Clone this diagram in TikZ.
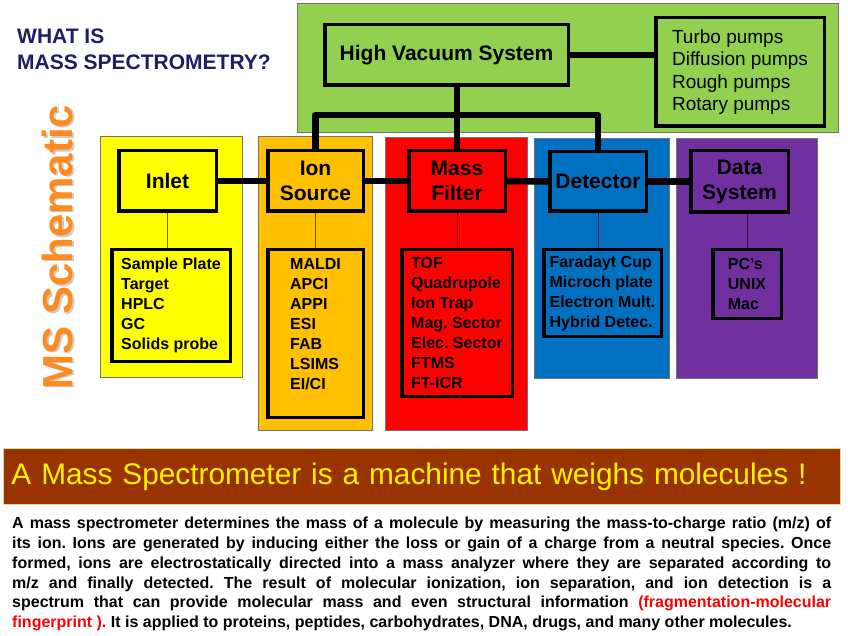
\documentclass[tikz,border=0pt]{standalone}
\usepackage{fontspec}
\setmainfont{Liberation Sans}
\usetikzlibrary{positioning, calc}
\hyphenpenalty=10000
\exhyphenpenalty=10000
\frenchspacing
\definecolor{cvac}{HTML}{92D050}
\definecolor{cinlet}{HTML}{FFFF00}
\definecolor{cion}{HTML}{FFC000}
\definecolor{cmass}{HTML}{FF0000}
\definecolor{cdet}{HTML}{0070C0}
\definecolor{cdata}{HTML}{7030A0}
\definecolor{cbanner}{HTML}{993300}
\definecolor{cedge}{HTML}{C4E59A}
\definecolor{cnavy}{HTML}{1E1E66}
\definecolor{corange}{HTML}{FF8A1E}
\tikzset{
  panel/.style={draw=black!55, line width=0.8pt, fill=#1},
  part/.style={draw=black, line width=3.5pt, fill=#1, align=center, inner sep=0pt, font=\bfseries\fontsize{21}{25}\selectfont},
  items/.style={draw=black, line width=3.5pt, fill=#1, align=left, inner sep=0pt, font=\bfseries\fontsize{16}{20}\selectfont},
  link/.style={draw=black, line width=6.5pt, line join=round},
  stem/.style={draw=black, draw opacity=0.6, line width=1pt},
  title/.style={font=\bfseries\fontsize{21}{26}\selectfont, text=cnavy, align=left, inner sep=0pt},
  sidetitle/.style={font=\bfseries\fontsize{42}{48}\selectfont, rotate=90, inner sep=0pt},
  banner/.style={draw=cedge, line width=1pt, fill=cbanner, text=yellow, align=left, font=\fontsize{29.8}{36}\selectfont},
  para/.style={font=\bfseries\fontsize{16}{19.8}\selectfont, align=justify, inner sep=0pt},
}

\begin{document}
\begin{tikzpicture}[x=1pt, y=-1pt]
  \useasboundingbox (0,0) rectangle (848,636);
  \node[title, anchor=north west] (whatis) at (17,29) {WHAT IS\\MASS SPECTROMETRY?};
  \node[sidetitle, text=black!20] (msshadow) at (59,248.5) {MS Schematic};
  \node[sidetitle, text=corange] (mstitle) at (57.5,247) {MS Schematic};
  % coloured backgrounds
  \draw[panel=cvac] (297,3) rectangle (838,132);
  \draw[panel=cinlet] (100,136) rectangle (242,377);
  \draw[panel=cion] (258,136) rectangle (372,430);
  \draw[panel=cmass] (385,137) rectangle (527,430);
  \draw[panel=cdet] (534,138) rectangle (669,378);
  \draw[panel=cdata] (676,138) rectangle (817,378);
  % vacuum system
  \node[part=cvac, minimum width=243.5, minimum height=60.5] (hvs) at (446.5,55) {High Vacuum System};
  \node[part=cvac, font=\fontsize{19}{22.5}\selectfont, align=left, minimum width=168.5, minimum height=108.5] (pumps) at (740,72) {Turbo pumps\\Diffusion pumps\\Rough pumps\\Rotary pumps};
  % the five stages
  \node[part=cinlet, minimum width=97.5, minimum height=60.5] (inlet) at (167.5,181) {Inlet};
  \node[part=cion, minimum width=95.5, minimum height=60.5] (ionsrc) at (315.5,181) {Ion\\Source};
  \node[part=cmass, minimum width=96.5, minimum height=60.5] (massf) at (457,181) {Mass\\Filter};
  \node[part=cdet, minimum width=96.5, minimum height=59.5] (detect) at (598,181.5) {Detector};
  \node[part=cdata, minimum width=97.5, minimum height=61.5] (datasys) at (739.5,181.5) {Data\\System};
  % what each stage can be
  \node[items=cinlet, minimum width=118.5, minimum height=111.5] (inletlist) at (171,305.5) {Sample Plate\\Target\\HPLC\\GC\\Solids probe};
  \node[items=cion, minimum width=95.5, minimum height=167.5] (ionlist) at (315.5,333.5) {MALDI\\APCI\\APPI\\ESI\\FAB\\LSIMS\\EI/CI\\[-1pt]};
  \node[items=cmass, minimum width=110.5, minimum height=146.5] (masslist) at (457,323) {TOF\\Quadrupole\\Ion Trap\\Mag. Sector\\Elec. Sector\\FTMS\\FT-ICR};
  \node[items=cdet, minimum width=117.5, minimum height=86.5] (detlist) at (602.5,293) {Faradayt Cup\\Microch plate\\Electron Mult.\\Hybrid Detec.};
  \node[items=cdata, minimum width=68.5, minimum height=68.5] (datalist) at (747,284) {PC's\\UNIX\\Mac};
  % connections
  \foreach \a/\b in {inlet/ionsrc, ionsrc/massf, massf/detect, detect/datasys} {
    \draw[link] (\a.east) -- (\b.west);
  }
  \coordinate (bar) at (457,115);
  \draw[link] (ionsrc.north) |- (bar) -| (detect.north);
  \draw[link] (hvs.south -| massf.north) -- (massf.north);
  \draw[link] (hvs.east) -- (hvs.east -| pumps.west);
  \foreach \a/\b in {inlet/inletlist, ionsrc/ionlist, massf/masslist, detect/detlist} {
    \draw[stem] (\a.south) -- (\a.south |- \b.north);
  }
  \draw[stem] (datalist.north) -- (datalist.north |- datasys.south);
  % bottom text
  \node[banner, minimum width=837, minimum height=56, text width=820] (banner) at (421.5,476.5) {A Mass Spectrometer is a machine that weighs molecules !};
  \node[para, anchor=north west, text width=819] (about) at (12,517) {A mass spectrometer determines the mass of a molecule by measuring the mass-to-charge ratio (m/z) of\linebreak
    its ion. Ions are generated by inducing either the loss or gain of a charge from a neutral species. Once\linebreak
    formed, ions are electrostatically directed into a mass analyzer where they are separated according to\linebreak
    m/z and finally detected. The result of molecular ionization, ion separation, and ion detection is a\linebreak
    spectrum that can provide molecular mass and even structural information {\color{red}(fragmentation-molecular}\linebreak
    {\color{red}fingerprint ).} It is applied to proteins, peptides, carbohydrates, DNA, drugs, and many other molecules.};
\end{tikzpicture}
\end{document}
